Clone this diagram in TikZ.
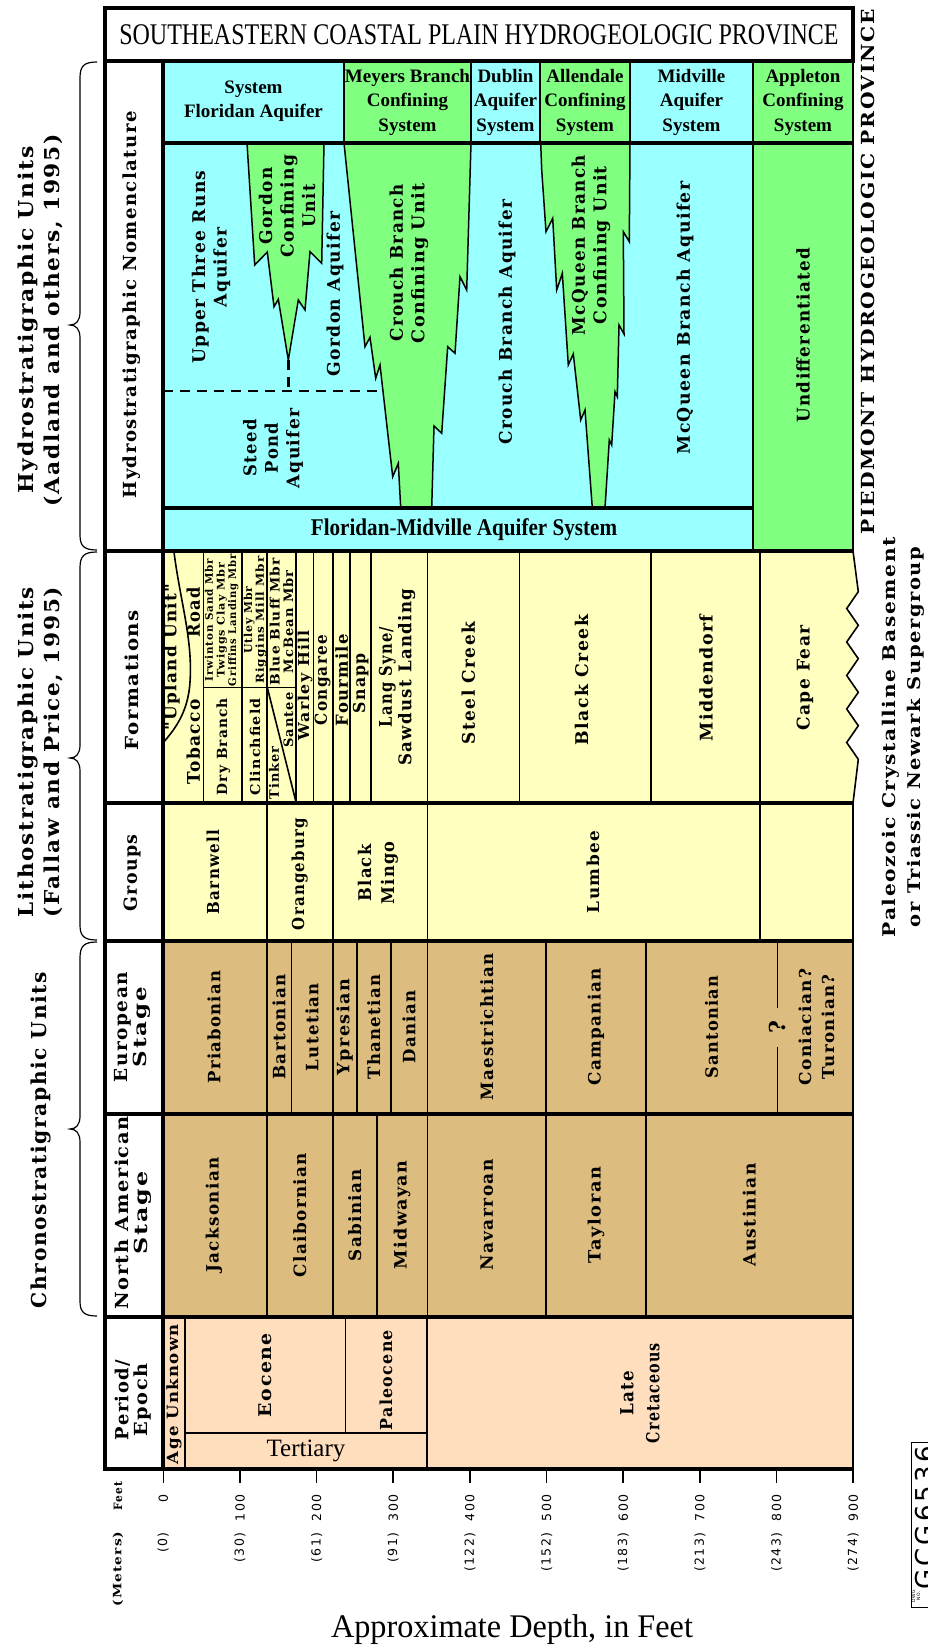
\documentclass[tikz,border=0pt]{standalone}
\usepackage{graphicx}
\usepackage{fontspec}
\setmainfont{Liberation Serif}
\newfontfamily\lab[LetterSpace=8]{DejaVu Serif}
\newfontfamily\tms{Liberation Serif}
\newfontfamily\tmsc[FakeStretch=0.8]{Liberation Serif}
\newfontfamily\tmsd[FakeStretch=0.88]{Liberation Serif}
\newfontfamily\axf[LetterSpace=12]{DejaVu Sans}
\newcommand\fs[2]{\fontsize{#1}{#2}\selectfont}
\newcommand\fw[2]{\resizebox{#1pt}{\height}{#2}}
\definecolor{cyanF}{RGB}{153,255,255}
\definecolor{greenF}{RGB}{128,255,128}
\definecolor{yelF}{RGB}{255,255,192}
\definecolor{tanF}{RGB}{221,189,127}
\definecolor{peachF}{RGB}{255,222,190}
\tikzset{
  thk/.style={line width=3.5pt},
  med/.style={line width=2.4pt},
  thn/.style={line width=1.6pt},
  wedge/.style={fill=greenF, draw=black, line width=1.5pt, line join=miter},
  bl/.style={rotate=90, inner sep=0pt, align=center, font=\lab\bfseries\fs{17.5}{21.5}},
  blx/.style 2 args={bl, font=\lab\bfseries\fs{#1}{#2}},
  ht/.style={inner sep=0pt, align=center, font=\tms\bfseries\fs{19}{24.5}},
  axn/.style={rotate=90, inner sep=0pt, font=\axf\fs{12.5}{14}},
}
\begin{document}
\begin{tikzpicture}[x=1pt,y=-1pt]
\useasboundingbox (0,0) rectangle (928,1651);
% ---------- fills ----------
\fill[cyanF] (163,61) rectangle (344,143);
\fill[greenF] (344,61) rectangle (471,143);
\fill[cyanF] (471,61) rectangle (540,143);
\fill[greenF] (540,61) rectangle (630,143);
\fill[cyanF] (630,61) rectangle (753,143);
\fill[greenF] (753,61) rectangle (853,143);
\fill[cyanF] (163,143) rectangle (753,551);
\fill[greenF] (753,143) rectangle (853,551);
\fill[yelF] (163,551) -- (853,551) -- (858.3,591.7) -- (846.7,608.5) -- (858.3,625.3) -- (846.7,642) -- (858.3,658.7) -- (846.7,675.5) -- (858.3,692.3) -- (846.7,709) -- (858.3,725.7) -- (846.7,742.5) -- (858.3,759.3) -- (853,803) -- (163,803) -- cycle;
\fill[yelF] (163,803) rectangle (853,941);
\fill[tanF] (163,941) rectangle (853,1317);
\fill[peachF] (163,1317) rectangle (853,1469);
% ---------- wedges ----------
\path[wedge] (247,143) -- (254.7,265) -- (267.3,252) -- (274,306.7) -- (278.3,299.3) -- (288.3,360) -- (298.3,300) -- (305,310) -- (310,251.7) -- (321.7,263.3) -- (324,143) -- cycle;
\path[wedge] (344,143) -- (365,346.7) -- (370,337.3) -- (375.7,378.3) -- (380,365) -- (392.7,476.7) -- (398.3,463.3) -- (400.7,508) -- (431.7,508) -- (434,426) -- (441.7,433.3) -- (447.7,346.7) -- (455,353.3) -- (460,276.7) -- (466.7,290) -- (471,143) -- cycle;
\path[wedge] (540.7,143) -- (541.7,170) -- (546,231.7) -- (552.7,218.3) -- (556.7,290) -- (562.3,273.3) -- (568.3,365) -- (573.3,354) -- (580.7,420) -- (585,410) -- (592.3,508) -- (605,508) -- (609.3,440) -- (611.7,445) -- (615,391.7) -- (617.3,396.7) -- (619,325) -- (624,334) -- (623.3,231.7) -- (629.3,241.7) -- (630,143) -- cycle;
% dashed boundary
\draw[line width=2.6pt, dash pattern=on 10pt off 7pt] (163,391) -- (381.7,391);
\draw[line width=2.6pt, dash pattern=on 10pt off 7pt] (288.3,360) -- (288.3,391);
% ---------- thin lines ----------
\foreach \x in {344,471,540,630} \draw[thn] (\x,61) -- (\x,143);
\draw[thn] (753,61) -- (753,551);
\foreach \x in {203.3,241.7,266.7,296,313.3,332.7,350,370.7,427.3,519.3,650.7,760} \draw[thn] (\x,551) -- (\x,803);
\draw[thn] (203.3,687.5) -- (296,687.5);
\draw[thn] (267.3,687.5) -- (296,802);
\draw[thn] (174,552) .. controls (180,600) and (193,640) .. (190,682) .. controls (188,715) and (172,732) .. (163,743);
\draw[thn] (853,551) -- (858.3,591.7) -- (846.7,608.5) -- (858.3,625.3) -- (846.7,642) -- (858.3,658.7) -- (846.7,675.5) -- (858.3,692.3) -- (846.7,709) -- (858.3,725.7) -- (846.7,742.5) -- (858.3,759.3) -- (853,803);
\foreach \x in {266.7,332.7,427.3,760} \draw[thn] (\x,803) -- (\x,941);
\foreach \x in {266.7,291.3,332.7,356.7,390.7,427.3,546,645.7} \draw[thn] (\x,941) -- (\x,1114);
\draw[thn] (777.3,941) -- (777.3,1008);
\draw[thn] (777.3,1047) -- (777.3,1114);
\foreach \x in {266.7,332.7,376.7,427.3,546,645.7} \draw[thn] (\x,1114) -- (\x,1317);
\draw[thn] (185,1317) -- (185,1469);
\draw[thn] (345.6,1317) -- (345.6,1433);
\draw[thn] (185,1433) -- (427,1433);
\draw[thn] (427,1317) -- (427,1469);
% ---------- thick lines ----------
\draw[med] (853,61) -- (853,551);
\draw[med] (853,803) -- (853,1469);
\draw[thk] (105,8) rectangle (853,61);
\draw[thk] (105,61) -- (105,1469) -- (853,1469);
\draw[thk] (163,61) -- (163,1469);
\draw[thk] (163,143) -- (853,143);
\draw[thk] (163,508) -- (753,508);
\foreach \y in {551,803,941,1114,1317} \draw[thk] (105,\y) -- (853,\y);
% ---------- braces ----------
\draw[line width=1.2pt] (97,62) .. controls (84,62) and (80,66) .. (80,78) -- (80,312) .. controls (80,321) and (76,325) .. (70,325) .. controls (76,325) and (80,329) .. (80,338) -- (80,535) .. controls (80,546) and (84,550) .. (97,550);
\draw[line width=1.2pt] (97,552) .. controls (84,552) and (80,556) .. (80,568) -- (80,745) .. controls (80,754) and (76,758) .. (70,758) .. controls (76,758) and (80,762) .. (80,771) -- (80,925) .. controls (80,936) and (84,940) .. (97,940);
\draw[line width=1.2pt] (97,942) .. controls (84,942) and (80,946) .. (80,958) -- (80,1116) .. controls (80,1125) and (76,1129) .. (70,1129) .. controls (76,1129) and (80,1133) .. (80,1142) -- (80,1301) .. controls (80,1312) and (84,1316) .. (97,1316);
% ---------- title & header ----------
\node[inner sep=0pt, font=\tmsc\fs{30}{30}] (title) at (479,35) {SOUTHEASTERN COASTAL PLAIN HYDROGEOLOGIC PROVINCE};
\node[ht] (h1) at (253.5,101) {System\\Floridan Aquifer};
\node[ht] (h2) at (407.5,102) {Meyers Branch\\Confining\\System};
\node[ht] (h3) at (505.5,102) {Dublin\\Aquifer\\System};
\node[ht] (h4) at (585,102) {Allendale\\Confining\\System};
\node[ht] (h5) at (691.5,102) {Midville\\Aquifer\\System};
\node[ht] (h6) at (803,102) {Appleton\\Confining\\System};
% ---------- hydro body ----------
\node[bl] (u3r) at (211,267) {\fw{193}{Upper Three Runs}\\\fw{80}{Aquifer}};
\node[bl] (gcu) at (287,206) {\fw{77}{Gordon}\\\fw{103}{Confining}\\\fw{43}{Unit}};
\node[bl] (gaq) at (335,294) {\fw{165}{Gordon Aquifer}};
\node[bl] (cbcu) at (409,263) {\fw{157}{Crouch Branch}\\\fw{160}{Confining Unit}};
\node[bl] (spa) at (273,448) {\fw{57}{Steed}\\\fw{50}{Pond}\\\fw{80}{Aquifer}};
\node[bl] (cba) at (507,322) {\fw{245}{Crouch Branch Aquifer}};
\node[bl] (mqcu) at (591,245) {\fw{180}{McQueen Branch}\\\fw{158}{Confining Unit}};
\node[bl] (mqa) at (685,318) {\fw{273}{McQueen Branch Aquifer}};
\node[bl] (und) at (803,335) {\fw{175}{Undifferentiated}};
\node[inner sep=0pt, font=\tmsd\bfseries\fs{24}{24}] (fma) at (464,530) {Floridan-Midville Aquifer System};
% ---------- formations ----------
\node[blx={16.5}{18}] (upl) at (171.7,657) {\fw{147}{"Upland Unit"}};
\node[blx={17.5}{18}] (tob) at (193.3,742) {\fw{85}{Tobacco}};
\node[blx={17.5}{18}] (road) at (193.3,612) {\fw{50}{Road}};
\node[blx={10.5}{11.7}] (irw) at (221.7,620) {\fw{122}{Irwinton Sand Mbr}\\\fw{115}{Twiggs Clay Mbr}\\\fw{132}{Griffins Landing Mbr}};
\node[blx={14}{15}] (dryb) at (223.3,746.7) {\fw{97}{Dry Branch}};
\node[blx={11}{10.5}] (utl) at (255,620) {\fw{67}{Utley Mbr}\\\fw{127}{Riggins Mill Mbr}};
\node[blx={13.5}{15}] (clin) at (255,746.7) {\fw{97}{Clinchfield}};
\node[blx={13}{13.3}] (blb) at (281.5,621.7) {\fw{127}{Blue Bluff Mbr}\\\fw{103}{McBean Mbr}};
\node[blx={13}{14}] (tink) at (274,773) {\fw{53}{Tinker}};
\node[blx={13}{14}] (sant) at (288.3,720) {\fw{55}{Santee}};
\node[blx={15}{16}] (warl) at (305,685) {\fw{110}{Warley Hill}};
\node[blx={16.5}{17}] (cong) at (322.7,680) {\fw{90}{Congaree}};
\node[blx={16.5}{17}] (fourm) at (341.7,680) {\fw{92}{Fourmile}};
\node[blx={16.5}{17}] (snapp) at (360.7,683) {\fw{60}{Snapp}};
\node[blx={17.5}{19.4}] (lang) at (397,677) {\fw{100}{Lang Syne/}\\\fw{177}{Sawdust Landing}};
\node[bl] (steel) at (468.3,683) {\fw{122}{Steel Creek}};
\node[bl] (blackc) at (581.7,680) {\fw{130}{Black Creek}};
\node[bl] (midd) at (706,678) {\fw{127}{Middendorf}};
\node[bl] (capef) at (805,678) {\fw{105}{Cape Fear}};
% ---------- groups ----------
\node[blx={16.5}{18}] (barn) at (213,872) {\fw{84}{Barnwell}};
\node[blx={16.5}{18}] (orang) at (299.7,874) {\fw{112}{Orangeburg}};
\node[blx={17.5}{23}] (bmingo) at (378,873) {\fw{57}{Black}\\\fw{63}{Mingo}};
\node[blx={16.5}{18}] (lumb) at (593,872) {\fw{82}{Lumbee}};
% ---------- european ----------
\node[blx={17}{18}] (pria) at (214,1027) {\fw{113}{Priabonian}};
\node[blx={17}{18}] (bart) at (279,1027) {\fw{105}{Bartonian}};
\node[blx={17}{18}] (lute) at (312,1027) {\fw{88}{Lutetian}};
\node[blx={17}{18}] (ypre) at (344.7,1027) {\fw{96}{Ypresian}};
\node[blx={17}{18}] (than) at (373.7,1027) {\fw{105}{Thanetian}};
\node[blx={17}{18}] (dani) at (409,1027) {\fw{73}{Danian}};
\node[blx={17}{18}] (maes) at (486.7,1027) {\fw{147}{Maestrichtian}};
\node[blx={17}{18}] (camp) at (596,1027) {\fw{117}{Campanian}};
\node[blx={17}{18}] (sant2) at (711.5,1027) {\fw{103}{Santonian}};
\node[blx={22}{22}] (qm) at (777.3,1027) {?};
\node[blx={16.5}{23}] (coni) at (816.5,1027) {\fw{117}{Coniacian?}\\\fw{105}{Turonian?}};
% ---------- north american ----------
\node[blx={17}{18}] (jack) at (214,1215) {\fw{115}{Jacksonian}};
\node[blx={17}{18}] (clai) at (299.7,1215) {\fw{124}{Claibornian}};
\node[blx={17}{18}] (sabi) at (354.7,1215) {\fw{92}{Sabinian}};
\node[blx={17}{18}] (midw) at (402,1215) {\fw{109}{Midwayan}};
\node[blx={17}{18}] (nava) at (486.7,1215) {\fw{111}{Navarroan}};
\node[blx={17}{18}] (tayl) at (596,1215) {\fw{96}{Tayloran}};
\node[blx={17}{18}] (aust) at (749.3,1215) {\fw{103}{Austinian}};
% ---------- period ----------
\node[blx={15.5}{16}] (ageu) at (174,1394) {\fw{140}{Age Unknown}};
\node[blx={17.5}{18}] (eoc) at (265,1375) {\fw{84}{Eocene}};
\node[blx={16.5}{18}] (pal) at (386,1380) {\fw{100}{Paleocene}};
\node[inner sep=0pt, font=\tms\fs{25}{25}] (tert) at (306,1451) {Tertiary};
\node[blx={18}{26}] (latec) at (640,1393) {\fw{45}{Late}\\\fw{100}{Cretaceous}};
% ---------- left column ----------
\node[blx={18}{19}] (lhn) at (132,305) {\fw{387}{Hydrostratigraphic Nomenclature}};
\node[blx={18}{19}] (lfor) at (132,680) {\fw{140}{Formations}};
\node[blx={18}{19}] (lgrp) at (132,873) {\fw{77}{Groups}};
\node[blx={18}{18.5}] (leur) at (132.5,1027) {\fw{110}{European}\\\fw{80}{Stage}};
\node[blx={18}{19}] (lna) at (133,1213) {\fw{193}{North American}\\\fw{83}{Stage}};
\node[blx={18}{19}] (lpe) at (133,1400) {\fw{80}{Period/}\\\fw{73}{Epoch}};
% ---------- braced labels ----------
\node[blx={20.5}{26}] (hyu) at (40,320) {\fw{347}{Hydrostratigraphic Units}\\\fw{372}{(Aadland and others, 1995)}};
\node[blx={20.5}{26}] (lithu) at (40,752) {\fw{330}{Lithostratigraphic Units}\\\fw{330}{(Fallaw and Price, 1995)}};
\node[blx={20.5}{26}] (chrou) at (41,1140) {\fw{336}{Chronostratigraphic Units}};
% ---------- right labels ----------
\node[blx={18}{20}] (pied) at (868,272) {\fw{525}{PIEDMONT HYDROGEOLOGIC PROVINCE}};
\node[blx={17.5}{25}] (paleo) at (903,737) {\fw{400}{Paleozoic Crystalline Basement}\\\fw{380}{or Triassic Newark Supergroup}};
% ---------- axis ----------
\foreach \d/\m [count=\i] in {0/0,100/30,200/61,300/91,400/122,500/152,600/183,700/213,800/243,900/274} {
  \pgfmathsetmacro\xx{163.3+0.7666*\d}
  \draw[thn] (\xx,1469) -- (\xx,1483);
  \node[axn, anchor=east] (f\i) at (\xx,1494) {\d};
  \node[axn, anchor=east] (m\i) at (\xx,1532) {(\m)};
}
\node[blx={11.5}{13}] (ftl) at (118,1496) {\fw{28}{Feet}};
\node[blx={11.5}{13}] (mtl) at (118,1569) {\fw{75}{(Meters)}};
\node[inner sep=0pt, font=\tms\fs{33}{33}] (xlab) at (512,1630) {\fw{362}{Approximate Depth, in Feet}};
% ---------- drawing number ----------
\draw[line width=1pt] (911,1442) rectangle (945,1607);
\node[rotate=90, inner sep=0pt, font=\axf\fs{26}{26}] (dwg) at (925,1518) {GCG6536};
\node[rotate=90, inner sep=0pt, align=center, font=\axf\fs{4.5}{5}] (dwgno) at (916,1596) {DWG\\NO.};
\end{tikzpicture}
\end{document}
